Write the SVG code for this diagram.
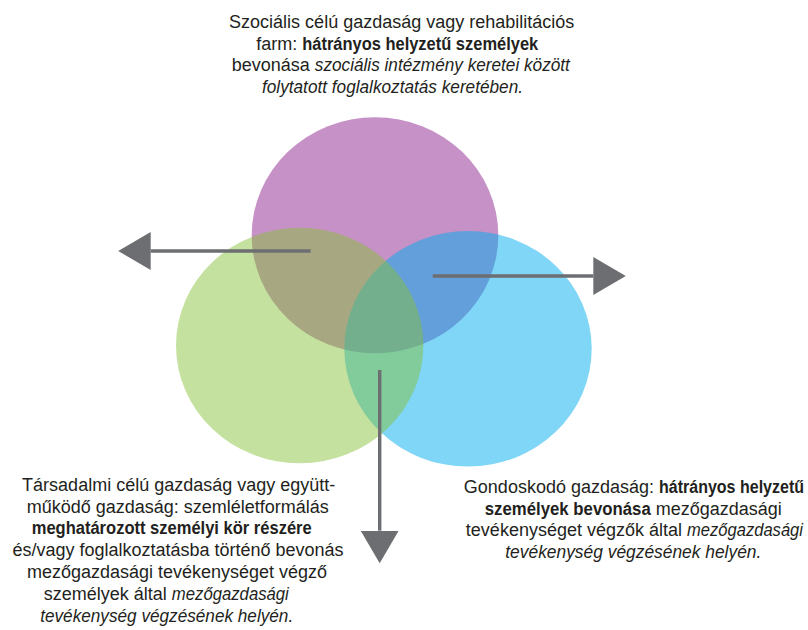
<svg xmlns="http://www.w3.org/2000/svg" width="808" height="630" viewBox="0 0 808 630">
  <style>
    .lbl { font-family: "Liberation Sans", Arial, sans-serif; font-size: 18px; fill: #231F20; text-anchor: middle; }
    .end { text-anchor: end; }
    .b { font-weight: bold; }
    .i { font-style: italic; }
    .conn { stroke: #6D6E71; stroke-width: 3.4; fill: none; }
  </style>
  <defs>
    <marker id="head" markerUnits="userSpaceOnUse" markerWidth="33" markerHeight="38" refX="0" refY="19" orient="auto" viewBox="0 0 33 38">
      <path d="M0,0 L32.5,19 L0,38 Z" fill="#6D6E71"/>
    </marker>
  </defs>
  <rect width="808" height="630" fill="#FFFFFF"/>

  <g id="node-social">
    <ellipse cx="375" cy="235.3" rx="123.3" ry="118" fill="#C691C6"/>
  </g>
  <g id="node-care">
    <ellipse cx="468" cy="348.8" rx="123.7" ry="117.8" fill="#00ADEF" fill-opacity="0.5"/>
  </g>
  <g id="node-societal">
    <ellipse cx="299.7" cy="345.5" rx="123.7" ry="117.8" fill="#86C139" fill-opacity="0.48"/>
  </g>

  <g id="connectors">
    <path class="conn" d="M310.7,251 L150.7,251" marker-end="url(#head)"/>
    <path class="conn" d="M432.7,276 L593.3,276" marker-end="url(#head)"/>
    <path class="conn" d="M379.7,370 L379.7,530.7" marker-end="url(#head)"/>
  </g>

  <g id="label-social">
    <text class="lbl" x="401.7" y="27.7">Szociális célú gazdaság vagy rehabilitációs</text>
    <text class="lbl" x="397.2" y="49.5">farm: <tspan class="b" textLength="236" lengthAdjust="spacingAndGlyphs">hátrányos helyzetű személyek</tspan></text>
    <text class="lbl" x="400.8" y="71.3">bevonása <tspan class="i" textLength="255" lengthAdjust="spacingAndGlyphs">szociális intézmény keretei között</tspan></text>
    <text class="lbl i" x="392.5" y="93.1" textLength="261" lengthAdjust="spacingAndGlyphs">folytatott foglalkoztatás keretében.</text>
  </g>

  <g id="label-societal">
    <text class="lbl" x="178.7" y="490.7">Társadalmi célú gazdaság vagy együtt-</text>
    <text class="lbl" x="177.8" y="512.5">működő gazdaság: szemléletformálás</text>
    <text class="lbl b" x="171.7" y="534.3" textLength="280" lengthAdjust="spacingAndGlyphs">meghatározott személyi kör részére</text>
    <text class="lbl" x="178" y="556.1">és/vagy foglalkoztatásba történő bevonás</text>
    <text class="lbl" x="177" y="577.9">mezőgazdasági tevékenységet végző</text>
    <text class="lbl" x="166.3" y="599.7">személyek által <tspan class="i" textLength="117" lengthAdjust="spacingAndGlyphs">mezőgazdasági</tspan></text>
    <text class="lbl i" x="166.7" y="621.5" textLength="253" lengthAdjust="spacingAndGlyphs">tevékenység végzésének helyén.</text>
  </g>

  <g id="label-care">
    <text class="lbl end" x="804" y="492.7">Gondoskodó gazdaság: <tspan class="b" textLength="145" lengthAdjust="spacingAndGlyphs">hátrányos helyzetű</tspan></text>
    <text class="lbl" x="633.3" y="514.5"><tspan class="b" textLength="166" lengthAdjust="spacingAndGlyphs">személyek bevonása</tspan> mezőgazdasági</text>
    <text class="lbl end" x="803" y="536.3">tevékenységet végzők által <tspan class="i" textLength="116" lengthAdjust="spacingAndGlyphs">mezőgazdasági</tspan></text>
    <text class="lbl i" x="633.3" y="558.1" textLength="256" lengthAdjust="spacingAndGlyphs">tevékenység végzésének helyén.</text>
  </g>
</svg>
